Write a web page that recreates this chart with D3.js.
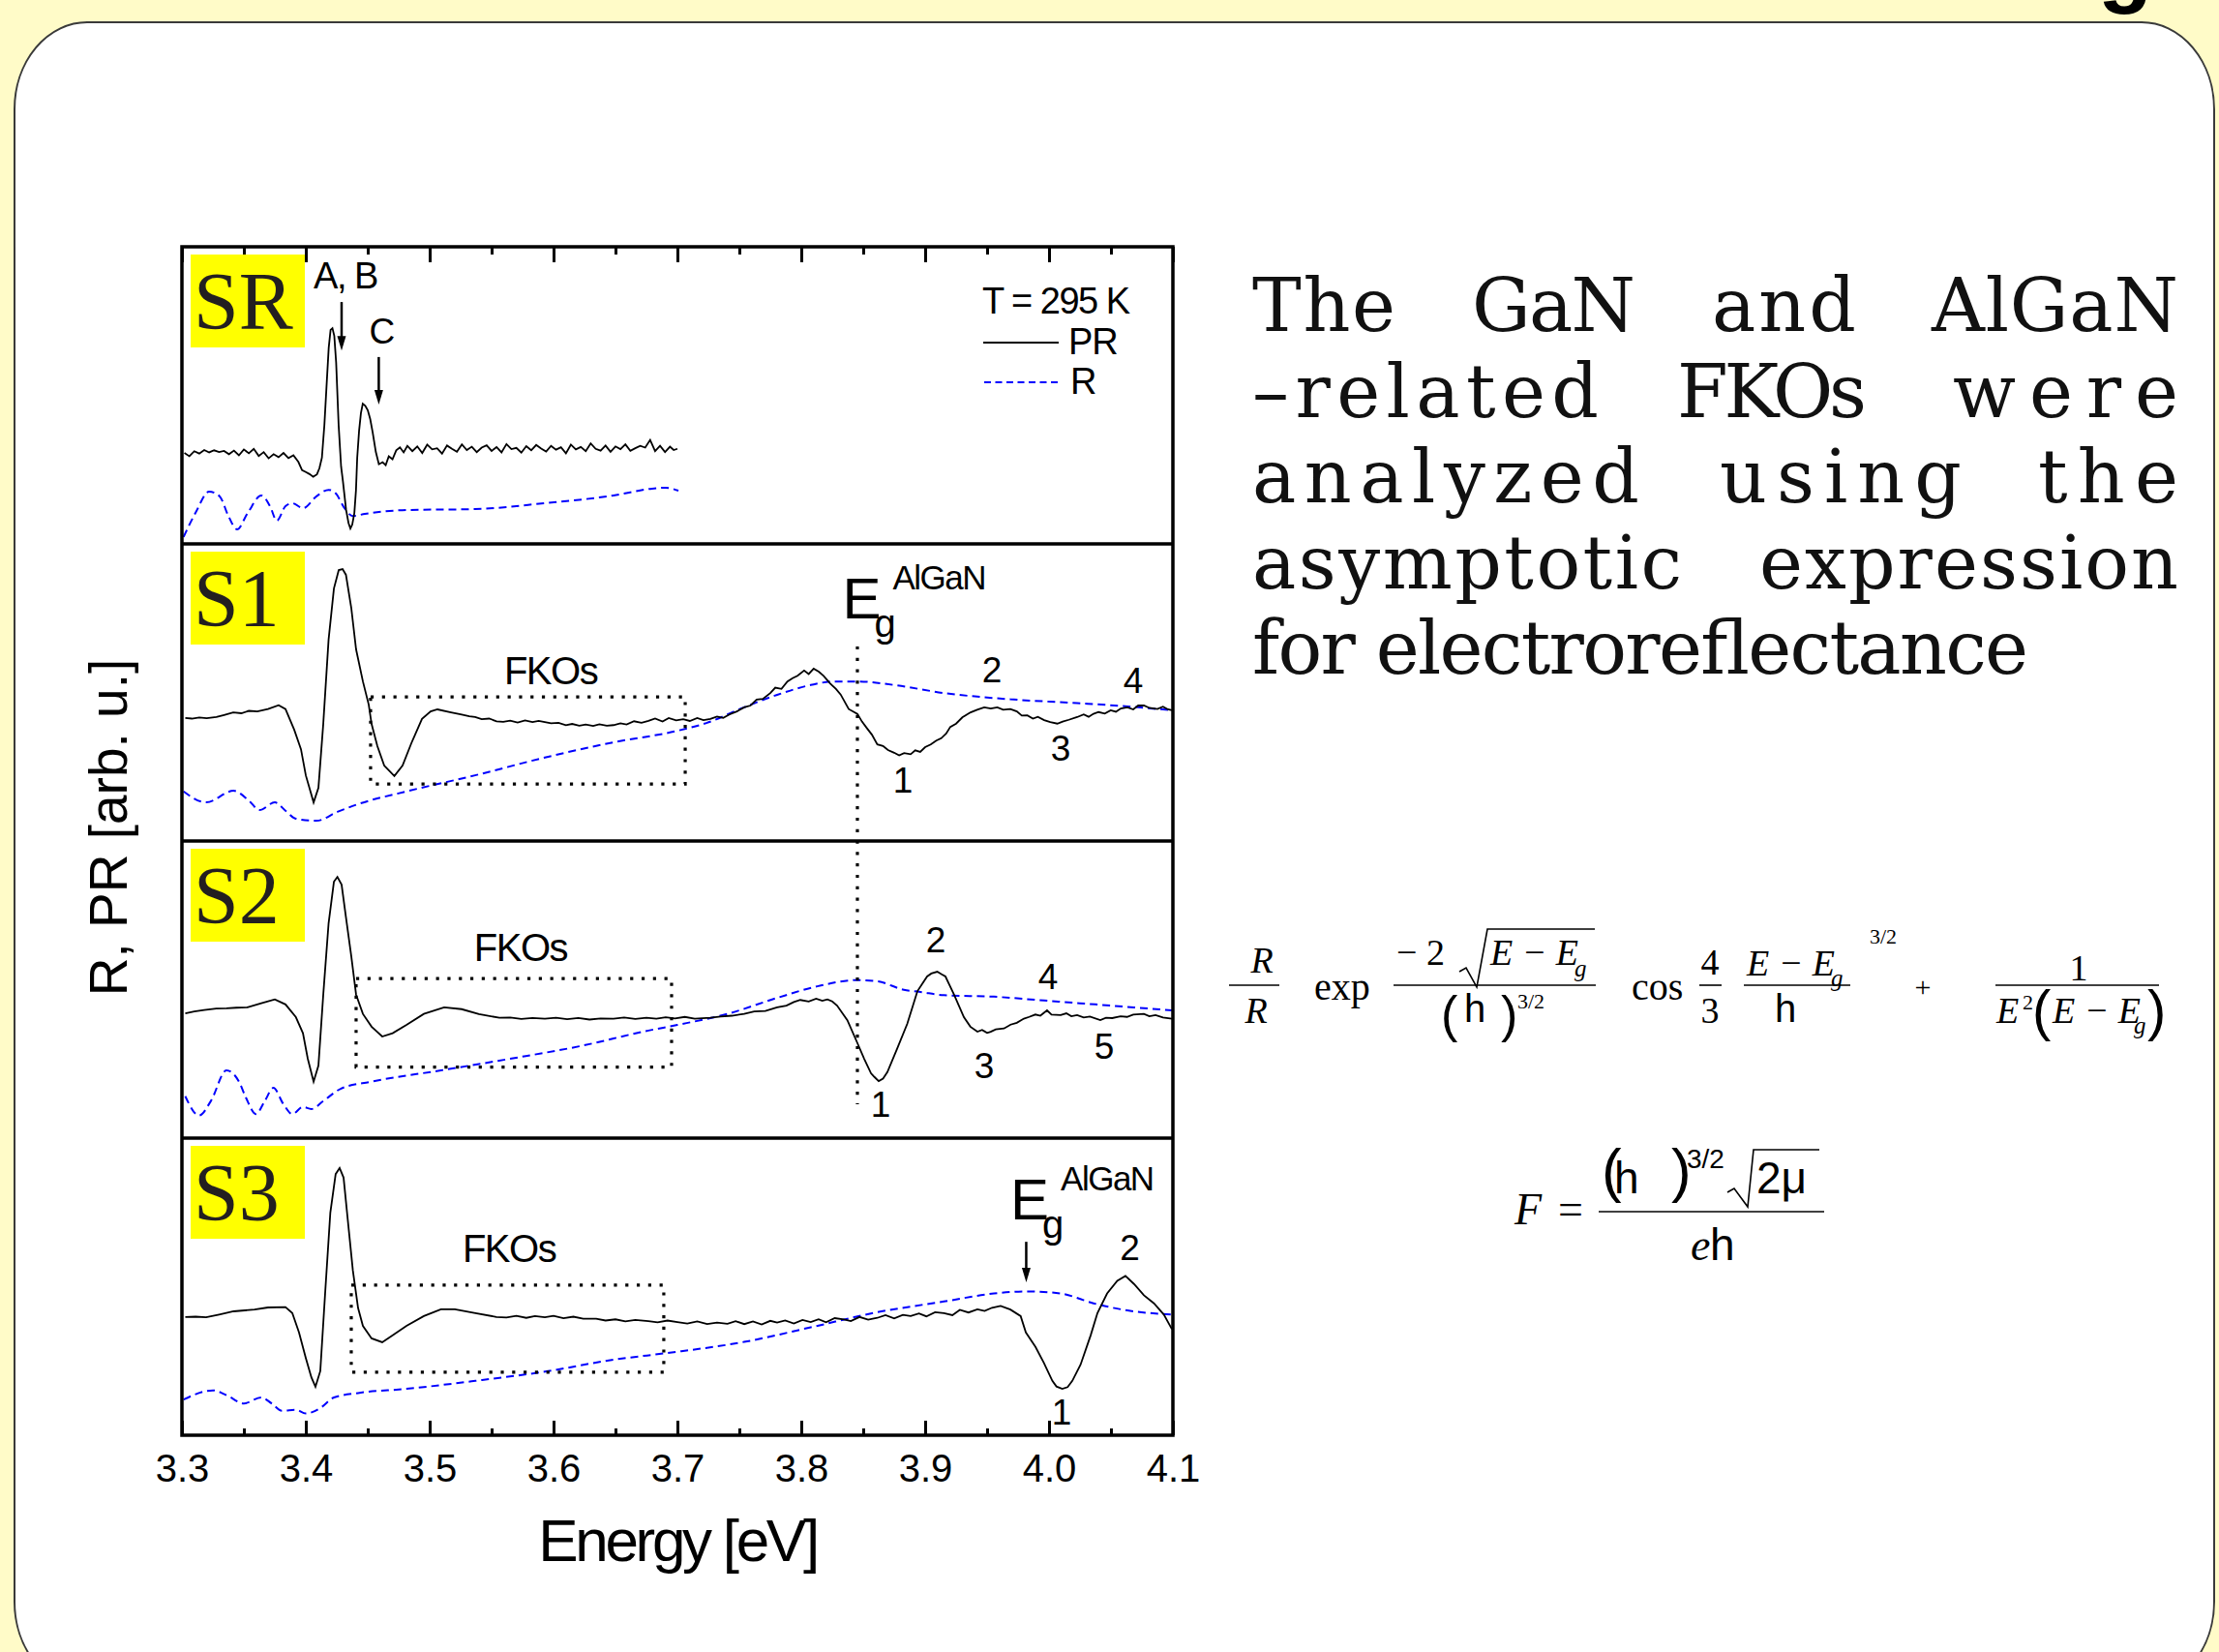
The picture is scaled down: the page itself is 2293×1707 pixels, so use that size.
<!DOCTYPE html>
<meta charset='utf-8'>
<style>
  body { margin:0; background:#fffbc8; }
  svg { display:block; }
  .sans { font-family:'Liberation Sans', Arial, sans-serif; }
  .serif { font-family:'Liberation Serif', 'Times New Roman', serif; }
  .body-text { font-family:'DejaVu Serif', serif; font-size:76px; fill:#111; }
  .pr { fill:none; stroke:#000; stroke-width:1.8px; }
  .refl { fill:none; stroke:#0000ff; stroke-width:2px; stroke-dasharray:8,5; }
  .dots { fill:none; stroke:#000; stroke-width:3.2px; stroke-dasharray:3.2,8.6; }
</style>
<body>
<script src='https://d3js.org/d3.v7.min.js'></script>
<script>

var W = 2293, H = 1707;
var plotLeft = 188, plotRight = 1212, plotTop = 255, panelH = 307;

var panelNames = ['SR', 'S1', 'S2', 'S3'];
var majorTicks = [3.3, 3.4, 3.5, 3.6, 3.7, 3.8, 3.9, 4.0, 4.1];
var tickLabels = ['3.3', '3.4', '3.5', '3.6', '3.7', '3.8', '3.9', '4.0', '4.1'];
var minorTicks = [3.35, 3.45, 3.55, 3.65, 3.75, 3.85, 3.95, 4.05];

// [energy eV, signal in panel units 0..100]
var prSR = [[3.302,30.6],[3.306,29.5],[3.310,31.2],[3.314,30.4],[3.318,31.6],[3.322,30.8],[3.326,31.5],[3.330,30.9],
  [3.334,31.3],[3.338,30.2],[3.342,31.4],[3.346,29.8],[3.350,31.8],[3.354,30.5],[3.358,32.0],[3.362,29.6],[3.366,30.9],
  [3.370,28.8],[3.374,30.2],[3.378,29.2],[3.382,30.6],[3.386,28.9],[3.390,29.8],[3.394,27.6],[3.397,24.8],[3.400,24.2],
  [3.403,23.5],[3.406,22.6],[3.409,23.4],[3.411,25.5],[3.413,29.0],[3.415,40.0],[3.417,55.0],[3.4185,66.0],[3.420,72.0],
  [3.4215,72.6],[3.423,70.0],[3.4245,61.0],[3.4265,40.0],[3.4285,26.0],[3.430,21.0],[3.4325,11.5],[3.4345,7.0],[3.436,5.2],
  [3.4375,6.5],[3.4392,10.4],[3.4405,18.0],[3.4415,29.0],[3.443,38.0],[3.4445,44.0],[3.446,47.2],[3.448,46.5],[3.450,45.0],
  [3.452,42.0],[3.454,37.5],[3.4565,31.0],[3.459,26.8],[3.462,27.5],[3.4645,26.5],[3.467,29.5],[3.470,28.5],[3.473,31.5],
  [3.476,32.5],[3.479,30.8],[3.482,33.0],[3.486,31.2],[3.490,32.8],[3.494,30.6],[3.498,33.4],[3.502,31.8],[3.506,32.2],
  [3.510,30.4],[3.514,33.1],[3.518,32.0],[3.522,31.0],[3.526,33.5],[3.530,31.6],[3.534,32.7],[3.538,30.9],[3.542,32.4],
  [3.546,33.2],[3.550,31.3],[3.554,32.6],[3.558,30.8],[3.562,33.6],[3.566,31.9],[3.570,32.3],[3.574,30.7],[3.578,32.9],
  [3.582,31.5],[3.586,33.3],[3.590,32.1],[3.594,31.1],[3.598,33.0],[3.602,31.7],[3.606,32.5],[3.610,30.5],[3.614,33.4],
  [3.618,31.8],[3.622,32.6],[3.626,31.2],[3.630,33.8],[3.634,32.0],[3.638,31.4],[3.642,33.1],[3.646,31.0],[3.650,32.8],
  [3.654,31.9],[3.658,33.5],[3.662,31.3],[3.666,32.2],[3.670,33.0],[3.674,32.4],[3.678,35.0],[3.682,31.2],[3.686,33.0],
  [3.690,30.9],[3.694,32.7],[3.697,31.6],[3.700,32.0]];
var rSR = [[3.3013,2.3],[3.3109,10.4],[3.3219,17.6],[3.3305,16.0],[3.3375,9.4],[3.3445,4.9],[3.3531,10.4],[3.3641,16.3],
  [3.3711,12.7],[3.3766,7.8],[3.3836,12.7],[3.3891,13.7],[3.3977,12.0],[3.4086,16.0],[3.4184,18.2],[3.4242,17.0],
  [3.4313,12.0],[3.438,9.4],[3.4477,10.1],[3.4813,11.4],[3.5367,11.7],[3.593,13.7],[3.6484,16.3],[3.6794,18.6],
  [3.6906,18.9],[3.7008,17.9]];

var prS1 = [[3.3027,41.4],[3.308,41.2],[3.314,41.6],[3.320,41.3],[3.3278,41.7],[3.334,42.4],[3.3414,43.3],[3.348,43.0],
  [3.354,43.8],[3.3609,43.6],[3.3695,44.4],[3.3781,45.7],[3.3836,44.4],[3.3906,37.5],[3.3961,30.9],[3.400,22.1],
  [3.4063,13.0],[3.4102,17.9],[3.4141,39.4],[3.4184,67.8],[3.4227,85.0],[3.4266,91.2],[3.4297,91.5],[3.4324,89.6],
  [3.4367,78.5],[3.4406,64.5],[3.4461,53.7],[3.4508,45.9],[3.4531,39.4],[3.4578,31.9],[3.4633,25.4],[3.4715,21.9],
  [3.4781,25.4],[3.4852,32.9],[3.4938,41.1],[3.5008,43.6],[3.5063,44.3],[3.5172,43.3],[3.525,42.6],[3.532,42.0],
  [3.5367,41.7],[3.542,41.0],[3.548,41.2],[3.554,40.3],[3.5594,40.1],[3.565,40.5],[3.571,39.9],[3.577,40.6],[3.583,40.0],
  [3.588,40.4],[3.593,40.0],[3.598,39.6],[3.604,39.8],[3.610,39.0],[3.615,39.4],[3.6208,38.8],[3.626,39.2],[3.632,38.7],
  [3.637,39.3],[3.643,38.8],[3.6484,39.0],[3.654,39.6],[3.659,39.2],[3.665,40.3],[3.671,39.8],[3.6766,40.4],[3.682,41.2],
  [3.688,40.2],[3.693,41.4],[3.699,40.6],[3.7047,41.0],[3.710,40.4],[3.716,41.4],[3.721,40.7],[3.7266,41.1],[3.732,41.9],
  [3.737,41.4],[3.742,42.6],[3.748,43.6],[3.7539,45.0],[3.759,45.6],[3.764,47.6],[3.769,47.8],[3.775,49.8],[3.779,51.6],
  [3.784,51.2],[3.7888,53.7],[3.793,54.8],[3.797,55.6],[3.8023,57.4],[3.806,56.2],[3.810,58.0],[3.8141,57.0],[3.818,55.6],
  [3.8234,53.0],[3.828,51.2],[3.8318,49.3],[3.8383,44.4],[3.8453,42.8],[3.849,40.2],[3.8531,37.9],[3.857,35.8],
  [3.8614,32.5],[3.866,32.0],[3.870,30.6],[3.875,29.7],[3.879,28.8],[3.883,29.6],[3.8883,29.2],[3.892,30.5],[3.896,30.0],
  [3.900,31.6],[3.9045,32.5],[3.909,33.8],[3.913,34.6],[3.917,36.2],[3.9203,38.4],[3.925,39.5],[3.930,41.6],[3.9367,43.3],
  [3.942,44.2],[3.9477,45.0],[3.953,44.6],[3.9583,45.0],[3.963,44.2],[3.9688,44.4],[3.974,43.6],[3.978,42.2],[3.9825,42.3],
  [3.987,41.2],[3.991,41.8],[3.9961,40.7],[4.001,40.0],[4.0067,39.5],[4.011,40.2],[4.016,40.8],[4.0227,41.7],[4.028,42.6],
  [4.032,41.8],[4.0359,42.8],[4.040,43.4],[4.045,42.9],[4.0498,44.0],[4.054,43.5],[4.058,44.6],[4.0633,45.0],[4.068,44.3],
  [4.072,45.6],[4.0766,45.6],[4.081,44.8],[4.0875,44.4],[4.092,45.2],[4.096,44.3],[4.0992,44.0]];
var rS1 = [[3.3013,16.7],[3.3195,13.0],[3.3417,16.9],[3.3543,13.5],[3.3625,10.4],[3.375,13.0],[3.3836,10.2],[3.392,7.5],
  [3.4086,6.8],[3.4255,9.8],[3.4422,12.4],[3.4813,16.7],[3.5367,22.1],[3.593,28.1],[3.6484,33.2],[3.7,37.1],[3.7234,39.7],
  [3.7539,45.0],[3.7805,49.2],[3.8076,52.5],[3.8266,53.7],[3.8453,53.7],[3.875,52.5],[3.9152,49.8],[3.9688,47.7],
  [4.0227,46.4],[4.0633,45.3],[4.0992,44.0]];

var prS2 = [[3.3027,42.0],[3.310,42.6],[3.318,43.1],[3.3278,43.6],[3.336,43.7],[3.344,43.9],[3.3529,44.0],[3.3641,45.4],
  [3.375,46.7],[3.3836,45.0],[3.392,40.7],[3.3977,35.3],[3.4016,26.7],[3.4063,19.0],[3.4102,24.4],[3.4141,48.3],
  [3.4184,72.3],[3.4227,86.3],[3.4255,87.9],[3.4289,85.3],[3.4324,74.4],[3.4367,61.3],[3.4406,48.3],[3.4461,41.8],
  [3.4531,37.5],[3.4617,34.2],[3.4701,35.3],[3.4813,38.1],[3.4953,41.8],[3.5117,44.0],[3.5258,43.4],[3.5398,41.7],
  [3.5563,40.5],[3.565,40.6],[3.574,40.1],[3.583,40.4],[3.593,40.2],[3.602,40.5],[3.611,40.0],[3.620,40.4],[3.629,39.9],
  [3.638,40.3],[3.6484,40.2],[3.657,40.6],[3.666,40.1],[3.675,40.5],[3.683,40.2],[3.6906,40.7],[3.698,40.3],[3.706,40.8],
  [3.714,40.2],[3.7266,40.5],[3.735,40.9],[3.744,41.2],[3.7539,41.8],[3.762,42.6],[3.771,42.8],[3.7805,44.0],[3.788,44.6],
  [3.794,45.8],[3.7992,46.5],[3.806,46.0],[3.812,46.9],[3.817,46.2],[3.8211,46.7],[3.825,46.0],[3.8289,44.6],[3.8372,39.7],
  [3.8453,32.0],[3.8508,26.7],[3.8563,21.8],[3.859,20.6],[3.8625,19.2],[3.866,20.0],[3.8695,22.2],[3.8773,30.0],
  [3.8856,38.5],[3.8938,49.5],[3.9016,54.4],[3.905,55.4],[3.9098,56.0],[3.913,55.2],[3.9164,54.4],[3.9233,48.3],
  [3.9313,40.7],[3.9365,37.5],[3.9422,35.8],[3.946,36.4],[3.950,35.4],[3.9529,35.8],[3.957,36.6],[3.9637,36.9],
  [3.969,38.2],[3.974,38.8],[3.9797,40.2],[3.984,40.8],[3.989,41.6],[3.993,41.2],[3.9984,43.0],[4.002,41.6],[4.0094,41.4],
  [4.014,42.0],[4.018,41.0],[4.0227,41.4],[4.028,40.6],[4.033,40.9],[4.0414,39.7],[4.046,40.5],[4.051,40.4],[4.0578,41.0],
  [4.063,40.8],[4.068,41.6],[4.0766,41.8],[4.081,41.0],[4.086,41.4],[4.092,40.6],[4.0992,40.2]];
var rS2 = [[3.3027,14.1],[3.3138,7.6],[3.3234,12.5],[3.3359,22.8],[3.3461,19.0],[3.3516,13.7],[3.3598,8.1],[3.3669,12.5],
  [3.3738,16.9],[3.382,11.4],[3.3891,8.1],[3.3977,10.5],[3.4045,9.8],[3.4141,12.5],[3.4281,16.6],[3.4531,19.0],
  [3.5091,22.8],[3.5648,26.7],[3.6208,30.9],[3.6766,36.2],[3.7,38.1],[3.7404,41.8],[3.7805,47.2],[3.813,51.1],
  [3.8453,53.2],[3.8614,52.8],[3.8828,49.9],[3.8961,49.2],[3.9152,48.1],[3.9555,47.6],[3.9961,46.3],[4.0498,44.6],
  [4.0992,43.0]];

var prS3 = [[3.3027,39.8],[3.311,39.9],[3.3195,39.7],[3.330,40.6],[3.3417,41.7],[3.3586,42.3],[3.3695,43.0],[3.3836,43.1],
  [3.3891,41.1],[3.3945,34.6],[3.400,26.0],[3.4045,19.5],[3.4078,16.3],[3.4117,21.6],[3.4156,47.7],[3.4198,74.9],
  [3.4241,87.9],[3.4273,89.9],[3.4305,86.7],[3.4336,73.7],[3.438,55.4],[3.4422,42.8],[3.4461,36.8],[3.4531,32.6],
  [3.4617,31.3],[3.4701,33.6],[3.4813,36.8],[3.4953,40.1],[3.5091,42.4],[3.5203,42.4],[3.537,41.1],[3.5539,39.8],
  [3.562,39.6],[3.570,40.2],[3.578,39.5],[3.585,40.1],[3.593,39.7],[3.600,40.2],[3.608,39.4],[3.616,39.9],[3.624,39.2],
  [3.6344,39.2],[3.642,38.6],[3.650,39.0],[3.658,38.3],[3.666,38.8],[3.6766,38.4],[3.684,38.0],[3.692,38.6],[3.700,38.1],
  [3.708,37.6],[3.716,38.3],[3.724,37.4],[3.732,37.9],[3.7404,37.5],[3.747,38.4],[3.754,37.4],[3.761,38.3],[3.768,37.3],
  [3.775,38.5],[3.7805,37.9],[3.787,38.6],[3.794,37.6],[3.801,38.8],[3.8076,38.1],[3.814,39.0],[3.820,38.0],[3.827,39.4],
  [3.8344,39.0],[3.840,38.4],[3.847,39.8],[3.854,38.9],[3.8614,39.5],[3.868,40.4],[3.875,39.3],[3.882,40.5],[3.8883,40.1],
  [3.895,41.0],[3.901,40.0],[3.908,41.4],[3.9152,41.1],[3.922,40.4],[3.928,42.2],[3.935,41.3],[3.9422,42.4],[3.948,41.8],
  [3.954,42.9],[3.9609,43.5],[3.9688,42.3],[3.9771,40.1],[3.9813,34.6],[3.9891,29.7],[3.9959,24.3],[4.0027,18.3],
  [4.006,16.4],[4.0107,15.6],[4.015,16.2],[4.0188,18.3],[4.0255,23.8],[4.0336,33.6],[4.0391,41.1],[4.0469,47.7],
  [4.0551,52.0],[4.0617,53.6],[4.0686,50.9],[4.0766,47.1],[4.0847,44.4],[4.0927,40.6],[4.0992,35.7]];
var rS3 = [[3.3013,12.0],[3.325,15.1],[3.3359,13.5],[3.35,10.7],[3.3641,12.7],[3.3724,10.7],[3.3808,8.2],[3.392,8.6],
  [3.400,7.3],[3.4115,9.1],[3.4227,12.7],[3.4422,14.2],[3.4813,15.6],[3.537,18.3],[3.593,21.4],[3.6484,25.4],
  [3.6906,27.6],[3.7,28.1],[3.7539,31.4],[3.8076,36.3],[3.8614,41.4],[3.9152,45.0],[3.9555,47.7],[3.9825,48.4],
  [4.0094,47.7],[4.0359,44.4],[4.0633,42.0],[4.0992,40.6]];

var prSeries = [prSR, prS1, prS2, prS3];
var rSeries = [rSR, rS1, rS2, rS3];

// annotations: [panel, text, energy, level]
var peakLabels = [[1,'1',3.882,16.3],[1,'2',3.9539,53.4],[1,'3',4.0094,27.0],[1,'4',4.068,49.8],
  [2,'1',3.8641,7.2],[2,'2',3.9086,62.5],[2,'3',3.9477,20.2],[2,'4',3.9992,50.2],[2,'5',4.0445,26.7],
  [3,'1',4.0102,3.6],[3,'2',4.0652,59.0],
  [0,'A, B',3.432,86.0],[0,'C',3.4617,67.4]];
// [panel, E from, E to, level low, level high]
var fkoBoxes = [[1,3.4523,3.7063,19.2,48.5],[2,3.4406,3.6953,23.9,53.7],[3,3.4367,3.689,21.2,50.5]];
var fkoLabels = [[1,3.5977,52.8],[2,3.5734,59.6],[3,3.5641,58.3]];
// [panel, energy, level start, level tip]
var arrows = [[0,3.4289,81.4,65.1],[0,3.4589,62.9,46.9],[3,3.9816,65.1,51.5]];
// [panel, energy of E, level of E baseline]
var egLabels = [[1,3.8332,74.9],[3,3.9688,72.6]];
var egLine = [3.8453, 65.5, 11.4];

// slide text: words and their left/right extents
var textLines = [['The', 'GaN', 'and', 'AlGaN'], ['\u2013related', 'FKOs', 'were'], ['analyzed', 'using', 'the'],
  ['asymptotic', 'expression'], ['for electroreflectance']];
var textSpans = [[[1294,1442],[1521,1690],[1769,1918],[1996,2251]],
  [[1294,1652],[1733,1929],[2018,2251]],
  [[1294,1694],[1777,2027],[2106,2251]],
  [[1294,1738],[1818,2251]],
  [[1294,2096]]];

var svg = d3.select('body').append('svg')
  .attr('width', W)
  .attr('height', H);

// slide background
svg.append('rect').attr('width', W).attr('height', H).attr('fill', '#fffbc8');
svg.append('text').text('g').attr('x', 2168).attr('y', -4)
  .attr('class', 'sans').attr('font-weight', 'bold').attr('font-size', 92);
var x0 = 15, y0 = 23, x1 = 2288, y1 = 1745, rx = 75, ry = 90;
svg.append('path')
  .attr('d', 'M' + (x0 + rx) + ',' + y0 + 'H' + (x1 - rx) +
    'A' + rx + ',' + ry + ' 0 0 1 ' + x1 + ',' + (y0 + ry) + 'V' + (y1 - ry) +
    'A' + rx + ',' + ry + ' 0 0 1 ' + (x1 - rx) + ',' + y1 + 'H' + (x0 + rx) +
    'A' + rx + ',' + ry + ' 0 0 1 ' + x0 + ',' + (y1 - ry) + 'V' + (y0 + ry) +
    'A' + rx + ',' + ry + ' 0 0 1 ' + (x0 + rx) + ',' + y0 + 'Z')
  .attr('fill', '#fff').attr('stroke', '#3a3a3a').attr('stroke-width', 2);

var x = d3.scaleLinear().domain([3.3, 4.1]).range([plotLeft, plotRight]);
var panels = panelNames.map(function(name, i) {
  var top = plotTop + i * panelH;
  return { name: name, top: top, y: d3.scaleLinear().domain([0, 100]).range([top + panelH, top]) };
});
var plotBottom = plotTop + panelH * panelNames.length;

svg.append('clipPath').attr('id', 'plotclip').append('rect')
  .attr('x', plotLeft).attr('y', plotTop)
  .attr('width', plotRight - plotLeft).attr('height', plotBottom - plotTop);

panels.forEach(function(p, i) {
  // yellow tag
  svg.append('rect').attr('x', 197).attr('y', p.top + 8).attr('width', 118).attr('height', 96).attr('fill', '#ffff00');
  svg.append('text').attr('class', 'serif').attr('x', 200).attr('y', p.top + 85)
    .attr('font-size', 84).attr('fill', '#231f20').text(p.name);

  var line = d3.line().x(function(d) { return x(d[0]); }).y(function(d) { return p.y(d[1]); });
  svg.append('path').datum(rSeries[i]).attr('class', 'refl').attr('clip-path', 'url(#plotclip)')
    .attr('d', line.curve(d3.curveMonotoneX));
  svg.append('path').datum(prSeries[i]).attr('class', 'pr').attr('clip-path', 'url(#plotclip)')
    .attr('d', line.curve(d3.curveLinear));
});

// FKO boxes and labels
fkoBoxes.forEach(function(b) {
  var y = panels[b[0]].y;
  svg.append('rect').attr('class', 'dots')
    .attr('x', x(b[1])).attr('y', y(b[4]))
    .attr('width', x(b[2]) - x(b[1])).attr('height', y(b[3]) - y(b[4]));
});
fkoLabels.forEach(function(f) {
  svg.append('text').attr('class', 'sans').attr('x', x(f[1])).attr('y', panels[f[0]].y(f[2]))
    .attr('text-anchor', 'middle').attr('font-size', 40).style('letter-spacing', '-1.5px').text('FKOs');
});

// Eg marker line through S1 and S2
svg.append('line').attr('class', 'dots')
  .attr('x1', x(egLine[0])).attr('x2', x(egLine[0]))
  .attr('y1', panels[1].y(egLine[1])).attr('y2', panels[2].y(egLine[2]));

egLabels.forEach(function(g) {
  var y = panels[g[0]].y, gx = x(g[1]), gy = y(g[2]);
  svg.append('text').attr('class', 'sans').attr('x', gx).attr('y', gy).attr('font-size', 60).text('E');
  svg.append('text').attr('class', 'sans').attr('x', gx + 33).attr('y', gy + 19).attr('font-size', 40).text('g');
  svg.append('text').attr('class', 'sans').attr('x', gx + 52).attr('y', gy - 30).attr('font-size', 35)
    .style('letter-spacing', '-1.5px').text('AlGaN');
});

peakLabels.forEach(function(l) {
  svg.append('text').attr('class', 'sans').attr('x', x(l[2])).attr('y', panels[l[0]].y(l[3]))
    .attr('text-anchor', 'middle').attr('font-size', l[1].length > 1 ? 38 : 37)
    .style('letter-spacing', l[1].length > 1 ? '-1.5px' : '0px').text(l[1]);
});

arrows.forEach(function(a) {
  var y = panels[a[0]].y, ax = x(a[1]), ya = y(a[2]), yb = y(a[3]);
  svg.append('line').attr('x1', ax).attr('x2', ax).attr('y1', ya).attr('y2', yb - 12)
    .attr('stroke', '#000').attr('stroke-width', 2.5);
  svg.append('path').attr('d', 'M' + (ax - 4.5) + ',' + (yb - 15) + 'L' + (ax + 4.5) + ',' + (yb - 15) + 'L' + ax + ',' + yb + 'Z')
    .attr('fill', '#000');
});

// legend
svg.append('text').attr('class', 'sans').attr('x', 1015).attr('y', 324).attr('font-size', 38)
  .style('letter-spacing', '-1.5px').text('T = 295 K');
svg.append('line').attr('x1', 1016).attr('x2', 1094).attr('y1', 354).attr('y2', 354).attr('stroke', '#000').attr('stroke-width', 2);
svg.append('text').attr('class', 'sans').attr('x', 1104).attr('y', 366).attr('font-size', 38).style('letter-spacing', '-1px').text('PR');
svg.append('line').attr('class', 'refl').attr('x1', 1017).attr('x2', 1094).attr('y1', 395).attr('y2', 395).style('stroke-dasharray', '7,4.5');
svg.append('text').attr('class', 'sans').attr('x', 1106).attr('y', 407).attr('font-size', 38).text('R');

// frame
svg.append('rect').attr('x', plotLeft).attr('y', plotTop).attr('width', plotRight - plotLeft).attr('height', plotBottom - plotTop)
  .attr('fill', 'none').attr('stroke', '#000').attr('stroke-width', 3.5);
panels.slice(1).forEach(function(p) {
  svg.append('line').attr('x1', plotLeft).attr('x2', plotRight).attr('y1', p.top).attr('y2', p.top)
    .attr('stroke', '#000').attr('stroke-width', 3.5);
});

// axes
function styleAxis(g) {
  g.select('.domain').remove();
  g.selectAll('line').attr('stroke', '#000').attr('stroke-width', 3);
  g.attr('font-family', "'Liberation Sans', Arial, sans-serif").attr('font-size', 40);
  g.selectAll('text').attr('fill', '#000');
}
svg.append('g').attr('transform', 'translate(0,' + plotBottom + ')')
  .call(d3.axisBottom(x).tickValues(majorTicks).tickSize(-15).tickPadding(20)
    .tickFormat(function(d, i) { return tickLabels[i]; }))
  .call(styleAxis);
svg.append('g').attr('transform', 'translate(0,' + plotBottom + ')')
  .call(d3.axisBottom(x).tickValues(minorTicks).tickSize(-7).tickFormat(''))
  .call(styleAxis);
svg.append('g').attr('transform', 'translate(0,' + plotTop + ')')
  .call(d3.axisTop(x).tickValues(majorTicks).tickSize(-16).tickFormat(''))
  .call(styleAxis);
svg.append('g').attr('transform', 'translate(0,' + plotTop + ')')
  .call(d3.axisTop(x).tickValues(minorTicks).tickSize(-8).tickFormat(''))
  .call(styleAxis);

svg.append('text').attr('class', 'sans').attr('x', (plotLeft + plotRight) / 2).attr('y', 1613)
  .attr('text-anchor', 'middle').attr('font-size', 62).style('letter-spacing', '-3.3px').text('Energy [eV]');
svg.append('text').attr('class', 'sans').attr('transform', 'translate(131,855) rotate(-90)')
  .attr('text-anchor', 'middle').attr('font-size', 55).text('R, PR [arb. u.]');

// explanatory text, justified word by word
textLines.forEach(function(words, li) {
  var yb = 342 + li * 88.6;
  words.forEach(function(w, k) {
    var span = textSpans[li][k];
    svg.append('text').attr('class', 'body-text').attr('x', span[0]).attr('y', yb)
      .attr('textLength', span[1] - span[0]).attr('lengthAdjust', 'spacing').text(w);
  });
});

// formulas (glyphs missing in the source render are left blank)
var TIMES = "'Liberation Serif', 'Times New Roman', serif";
var ARIAL = "'Liberation Sans', Arial, sans-serif";
var formulaText = [
  ['R', 1304, 1005, 38, TIMES, 'italic', 'middle'],
  ['R', 1298, 1057, 38, TIMES, 'italic', 'middle'],
  ['exp', 1358, 1033, 40, TIMES, 'normal', 'start'],
  ['\u2212 2', 1443, 997, 38, TIMES, 'normal', 'start'],
  ['E \u2212 E', 1540, 997, 38, TIMES, 'italic', 'start'],
  ['g', 1627, 1009, 25, TIMES, 'italic', 'start'],
  ['(', 1489, 1066, 52, ARIAL, 'normal', 'start'],
  ['h', 1513, 1056, 40, ARIAL, 'normal', 'start'],
  [')', 1551, 1066, 52, ARIAL, 'normal', 'start'],
  ['3/2', 1568, 1042, 22, TIMES, 'normal', 'start'],
  ['cos', 1686, 1033, 40, TIMES, 'normal', 'start'],
  ['4', 1767, 1007, 38, TIMES, 'normal', 'middle'],
  ['3', 1767, 1057, 38, TIMES, 'normal', 'middle'],
  ['E \u2212 E', 1805, 1008, 38, TIMES, 'italic', 'start'],
  ['g', 1892, 1019, 25, TIMES, 'italic', 'start'],
  ['h', 1845, 1056, 40, ARIAL, 'normal', 'middle'],
  ['3/2', 1932, 975, 22, TIMES, 'normal', 'start'],
  ['+', 1987, 1030, 30, TIMES, 'normal', 'middle'],
  ['1', 2148, 1013, 38, TIMES, 'normal', 'middle'],
  ['E', 2063, 1057, 38, TIMES, 'italic', 'start'],
  ['2', 2090, 1043, 22, TIMES, 'normal', 'start'],
  ['(', 2100, 1064, 58, ARIAL, 'normal', 'start'],
  ['E \u2212 E', 2121, 1057, 38, TIMES, 'italic', 'start'],
  ['g', 2205, 1068, 25, TIMES, 'italic', 'start'],
  [')', 2219, 1064, 58, ARIAL, 'normal', 'start'],
  ['F', 1565, 1265, 46, TIMES, 'italic', 'start'],
  ['=', 1610, 1265, 46, TIMES, 'normal', 'start'],
  ['(', 1655, 1230, 62, ARIAL, 'normal', 'start'],
  ['h', 1668, 1233, 46, ARIAL, 'normal', 'start'],
  [')', 1727, 1230, 62, ARIAL, 'normal', 'start'],
  ['3/2', 1743, 1207, 28, ARIAL, 'normal', 'start'],
  ['2\u03bc', 1815, 1233, 46, ARIAL, 'normal', 'start'],
  ['e', 1747, 1302, 46, TIMES, 'italic', 'start'],
  ['h', 1767, 1302, 46, ARIAL, 'normal', 'start']
];
formulaText.forEach(function(f) {
  svg.append('text').attr('x', f[1]).attr('y', f[2]).attr('font-size', f[3])
    .attr('font-family', f[4]).attr('font-style', f[5]).attr('text-anchor', f[6]).attr('fill', '#000').text(f[0]);
});
var formulaLines = [
  'M1270,1018H1322', 'M1440,1018H1649', 'M1756,1018H1779', 'M1802,1018H1912', 'M2062,1018H2231',
  'M1508,1004L1515,1000L1526,1020L1537,960H1648',
  'M1652,1252H1885',
  'M1785,1232L1792,1228L1806,1247L1812,1188H1880'
];
formulaLines.forEach(function(d) {
  svg.append('path').attr('d', d).attr('fill', 'none').attr('stroke', '#000').attr('stroke-width', 1.6);
});
</script>
</body>
